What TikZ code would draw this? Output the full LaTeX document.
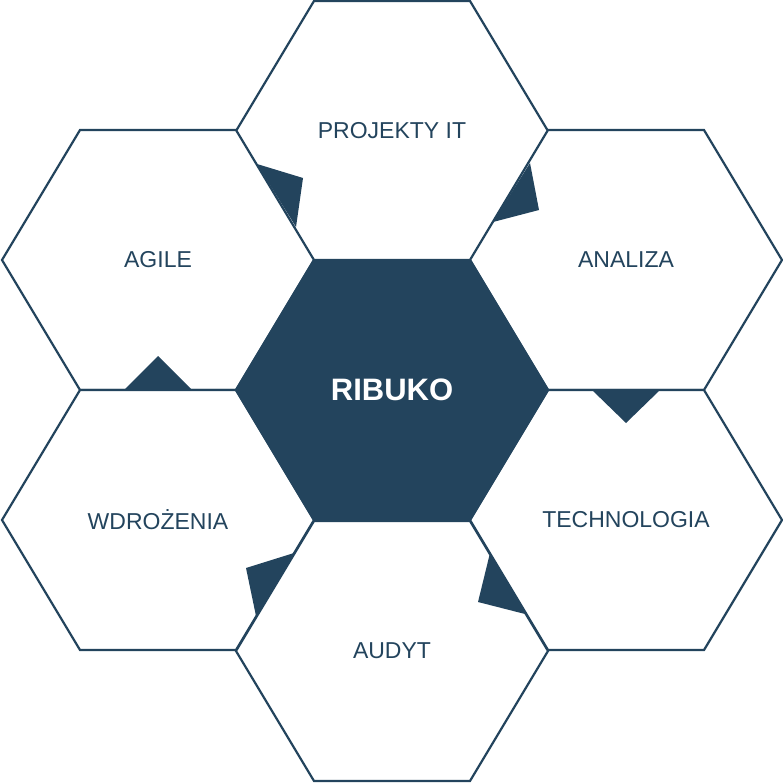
\documentclass[tikz,border=0pt]{standalone}
\usepackage{fontspec}
\setmainfont{Liberation Sans}
\definecolor{dk}{HTML}{23445D}
\begin{document}
\begin{tikzpicture}[x=1pt,y=-1pt,
  hex/.style={draw=dk,line width=2.2pt,line join=miter,fill=white},
  lbl/.style={text=dk,font=\fontsize{23}{27}\selectfont},
  tri/.style={fill=dk}]
\useasboundingbox (0,0) rectangle (783,783);
\newcommand{\hexat}[3]{\draw[#3] (#1-156,#2) -- (#1-78,#2-130) -- (#1+78,#2-130) -- (#1+156,#2) -- (#1+78,#2+130) -- (#1-78,#2+130) -- cycle;}
\hexat{392}{131}{hex}
\hexat{158}{260}{hex}
\hexat{626}{260}{hex}
\hexat{158}{520}{hex}
\hexat{626}{520}{hex}
\hexat{392}{651}{hex}
\hexat{392}{390}{hex,fill=dk}
\fill[tri] (257,164) -- (303,178) -- (296,227) -- cycle;
\fill[tri] (530,163) -- (539,210) -- (493,222) -- cycle;
\fill[tri] (592,390) -- (660,390) -- (626,423) -- cycle;
\fill[tri] (490,553) -- (478,602) -- (525,614) -- cycle;
\fill[tri] (294,553) -- (246,568) -- (256,616) -- cycle;
\fill[tri] (124,390) -- (192,390) -- (158,356) -- cycle;
\node[lbl] (p) at (392,131) {PROJEKTY IT};
\node[lbl] (ag) at (158,260) {AGILE};
\node[lbl] (an) at (626,260) {ANALIZA};
\node[lbl] (w) at (158,520) {WDROŻENIA};
\node[lbl] (t) at (626,520) {TECHNOLOGIA};
\node[lbl] (au) at (392,651) {AUDYT};
\node[text=white,font=\bfseries\fontsize{31}{35}\selectfont] (r) at (392,390) {RIBUKO};
\end{tikzpicture}
\end{document}
